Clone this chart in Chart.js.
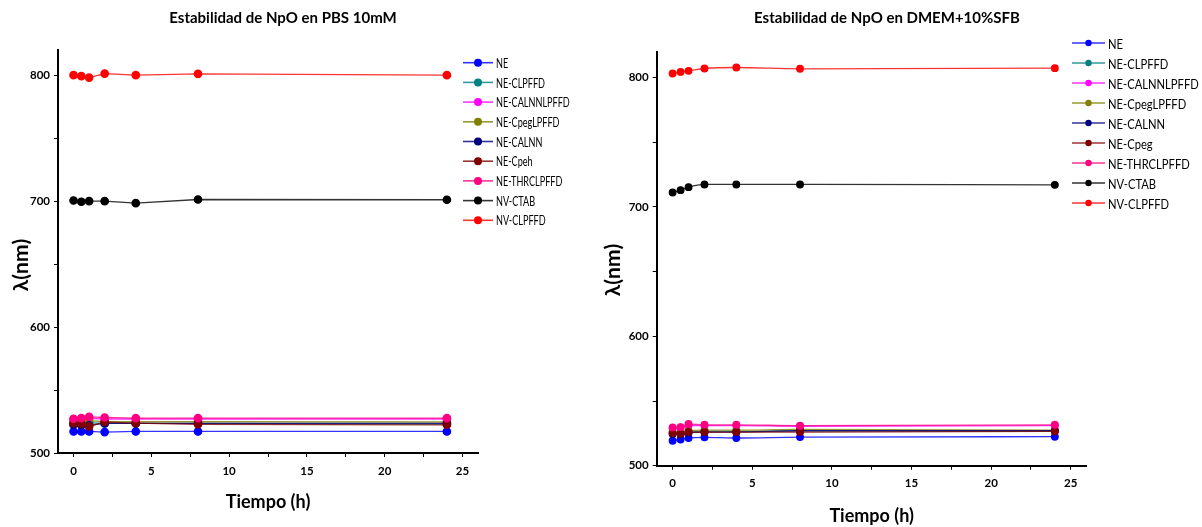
<!DOCTYPE html>
<html>
<head>
<meta charset="utf-8">
<script src="https://cdn.jsdelivr.net/npm/chart.js@4.4.1/dist/chart.umd.min.js"></script>
<style>
  body { margin: 0; background: #fff; }
  #pbs { position: absolute; left: 0; top: 0; }
  #dmem { position: absolute; left: 600px; top: 0; }
</style>
</head>
<body>
<canvas id="pbs" width="600" height="527"></canvas>
<canvas id="dmem" width="602" height="527"></canvas>
<script>
var Tiempo = [0, 0.5, 1, 2, 4, 8, 24];

var Nombres_PBS = ['NE', 'NE-CLPFFD', 'NE-CALNNLPFFD', 'NE-CpegLPFFD', 'NE-CALNN', 'NE-Cpeh', 'NE-THRCLPFFD', 'NV-CTAB', 'NV-CLPFFD'];
var Nombres_DMEM = ['NE', 'NE-CLPFFD', 'NE-CALNNLPFFD', 'NE-CpegLPFFD', 'NE-CALNN', 'NE-Cpeg', 'NE-THRCLPFFD', 'NV-CTAB', 'NV-CLPFFD'];
var Colores = ['#0000ff', '#008080', '#ff00ff', '#808000', '#000080', '#800000', '#ff0080', '#000000', '#ff0000'];

// PBS 10mM
var PBS_NE          = [517.1, 517.1, 517.1, 516.6, 517.1, 517.1, 517.1];
var PBS_CLPFFD      = [523.0, 523.5, 524.0, 523.5, 523.5, 523.5, 523.0];
var PBS_CALNNLPFFD  = [526.5, 527.0, 527.5, 527.0, 527.0, 527.0, 527.0];
var PBS_CpegLPFFD   = [524.5, 525.0, 525.5, 525.0, 524.8, 524.8, 524.6];
var PBS_CALNN       = [522.5, 522.0, 522.0, 523.5, 523.5, 523.5, 523.5];
var PBS_Cpeh        = [523.7, 523.2, 521.1, 524.6, 523.7, 522.8, 522.4];
var PBS_THRCLPFFD   = [527.2, 527.7, 528.7, 528.2, 527.7, 527.7, 527.7];
var PBS_CTAB        = [700.5, 699.5, 700.0, 700.0, 698.4, 701.3, 701.1];
var PBS_NV_CLPFFD   = [800.0, 799.2, 798.1, 801.3, 800.0, 801.1, 800.0];

// DMEM+10%SFB
var DMEM_NE         = [519.3, 520.3, 521.4, 521.9, 521.4, 522.1, 522.4];
var DMEM_CLPFFD     = [525.5, 525.0, 526.0, 526.5, 526.5, 527.0, 527.0];
var DMEM_CALNNLPFFD = [529.0, 529.5, 531.0, 531.0, 531.0, 530.5, 531.0];
var DMEM_CpegLPFFD  = [526.0, 525.5, 527.0, 527.5, 527.5, 528.0, 527.5];
var DMEM_CALNN      = [524.5, 524.5, 525.5, 526.0, 526.0, 527.0, 527.0];
var DMEM_Cpeg       = [525.2, 524.7, 526.0, 526.0, 526.0, 526.0, 526.5];
var DMEM_THRCLPFFD  = [529.6, 529.8, 532.2, 531.6, 531.6, 530.9, 531.6];
var DMEM_CTAB       = [711.2, 713.0, 715.3, 717.4, 717.4, 717.4, 717.1];
var DMEM_NV_CLPFFD  = [803.1, 804.4, 805.2, 807.0, 807.8, 806.8, 807.3];

var Series_PBS = [PBS_NE, PBS_CLPFFD, PBS_CALNNLPFFD, PBS_CpegLPFFD, PBS_CALNN, PBS_Cpeh, PBS_THRCLPFFD, PBS_CTAB, PBS_NV_CLPFFD];
var Series_DMEM = [DMEM_NE, DMEM_CLPFFD, DMEM_CALNNLPFFD, DMEM_CpegLPFFD, DMEM_CALNN, DMEM_Cpeg, DMEM_THRCLPFFD, DMEM_CTAB, DMEM_NV_CLPFFD];

var FUENTE = 'Lato, "DejaVu Sans", sans-serif';

function makeSets(nombres, series, radio, suave) {
  var sets = [];
  for (var i in nombres) {
    var pts = [];
    for (var j in Tiempo) {
      pts.push({x: Tiempo[j], y: series[i][j]});
    }
    sets.push({
      label: nombres[i],
      data: pts,
      borderColor: Colores[i] + 'cc',
      backgroundColor: Colores[i],
      pointBackgroundColor: Colores[i],
      pointBorderColor: Colores[i],
      borderWidth: 1.3,
      pointRadius: radio,
      cubicInterpolationMode: suave ? 'monotone' : 'default',
      fill: false,
      order: nombres.length - i   // later series on top, like Origin
    });
  }
  return sets;
}

// chart title + y title drawn at fixed spots
var textos = {
  id: 'textos',
  afterDraw: function(chart, args, o) {
    var ctx = chart.ctx;
    ctx.save();
    ctx.fillStyle = '#000';
    ctx.textAlign = 'center';
    ctx.textBaseline = 'middle';
    ctx.font = 'bold 15px ' + FUENTE;
    ctx.fillText(o.title, o.titleX, o.titleY);
    ctx.translate(o.yX, o.yY);
    ctx.rotate(-Math.PI / 2);
    ctx.font = 'bold 21px ' + FUENTE;
    ctx.fillText('λ(nm)', 0, 0);
    ctx.restore();
  }
};

// Origin style legend: line + dot + label (text a bit condensed)
var leyenda = {
  id: 'leyenda',
  afterDraw: function(chart, args, o) {
    var ctx = chart.ctx;
    ctx.save();
    ctx.font = o.size + 'px ' + FUENTE;
    ctx.textBaseline = 'middle';
    chart.data.datasets.forEach(function(ds, i) {
      var y = o.y + i * o.gap;
      ctx.strokeStyle = ds.borderColor;
      ctx.lineWidth = 1.6;
      ctx.beginPath();
      ctx.moveTo(o.x, y);
      ctx.lineTo(o.x + o.len, y);
      ctx.stroke();
      ctx.fillStyle = ds.backgroundColor;
      ctx.beginPath();
      ctx.arc(o.x + o.len / 2, y, o.r, 0, Math.PI * 2);
      ctx.fill();
      ctx.fillStyle = '#000';
      ctx.save();
      ctx.translate(o.x + o.len + 3, y + 1);
      ctx.scale(o.sx, 1);
      ctx.fillText(ds.label, 0, 0);
      ctx.restore();
    });
    ctx.restore();
  }
};

function makeOptions(cfg) {
  return {
    responsive: false,
    animation: false,
    layout: { padding: { top: cfg.top, right: cfg.right, left: 0, bottom: 0 } },
    plugins: {
      legend: { display: false },
      tooltip: { enabled: false },
      textos: cfg.textos,
      leyenda: cfg.leyenda
    },
    scales: {
      x: {
        type: 'linear',
        min: -1,
        max: 26,
        afterFit: function(s) { s.height = cfg.xH; },
        border: { display: true, color: '#000', width: 2 },
        grid: { drawOnChartArea: false, drawTicks: true, tickLength: 4, color: '#000', tickColor: '#000' },
        ticks: {
          stepSize: 2.5,
          includeBounds: false,
          autoSkip: false,
          maxRotation: 0,
          padding: 7,
          color: '#000',
          font: { family: FUENTE, size: 11.5, weight: 'bold' },
          callback: function(v) { return v % 5 === 0 ? v : ''; }
        },
        title: {
          display: true,
          text: 'Tiempo (h)',
          color: '#000',
          font: { family: FUENTE, size: 18, weight: 'bold' },
          padding: { top: 0, bottom: cfg.xTitlePad }
        }
      },
      y: {
        min: 500,
        max: 820,
        afterFit: function(s) { s.width = cfg.yW; },
        border: { display: true, color: '#000', width: 2 },
        grid: { drawOnChartArea: false, drawTicks: true, tickLength: 4, color: '#000', tickColor: '#000' },
        ticks: {
          stepSize: 50,
          includeBounds: false,
          autoSkip: false,
          padding: 4,
          color: '#000',
          font: { family: FUENTE, size: 11.5, weight: 'bold' },
          callback: function(v) { return v % 100 === 0 ? v : ''; }
        }
      }
    }
  };
}

new Chart(document.getElementById('pbs'), {
  type: 'line',
  data: { datasets: makeSets(Nombres_PBS, Series_PBS, 3.7, false) },
  options: makeOptions({
    top: 50, right: 122, xH: 74, yW: 58, xTitlePad: 14,
    textos: { title: 'Estabilidad de NpO en PBS 10mM', titleX: 283, titleY: 18, yX: 21, yY: 265 },
    leyenda: { x: 463, y: 62.7, gap: 19.7, len: 30, r: 4, size: 13, sx: 0.7 }
  }),
  plugins: [textos, leyenda]
});

new Chart(document.getElementById('dmem'), {
  type: 'line',
  data: { datasets: makeSets(Nombres_DMEM, Series_DMEM, 3.3, true) },
  options: makeOptions({
    top: 51.7, right: 115.3, xH: 61.3, yW: 56.7, xTitlePad: 0,
    textos: { title: 'Estabilidad de NpO en DMEM+10%SFB', titleX: 287, titleY: 18, yX: 13, yY: 270 },
    leyenda: { x: 472, y: 43, gap: 20, len: 33, r: 3.2, size: 14, sx: 0.8 }
  }),
  plugins: [textos, leyenda]
});
</script>
</body>
</html>
